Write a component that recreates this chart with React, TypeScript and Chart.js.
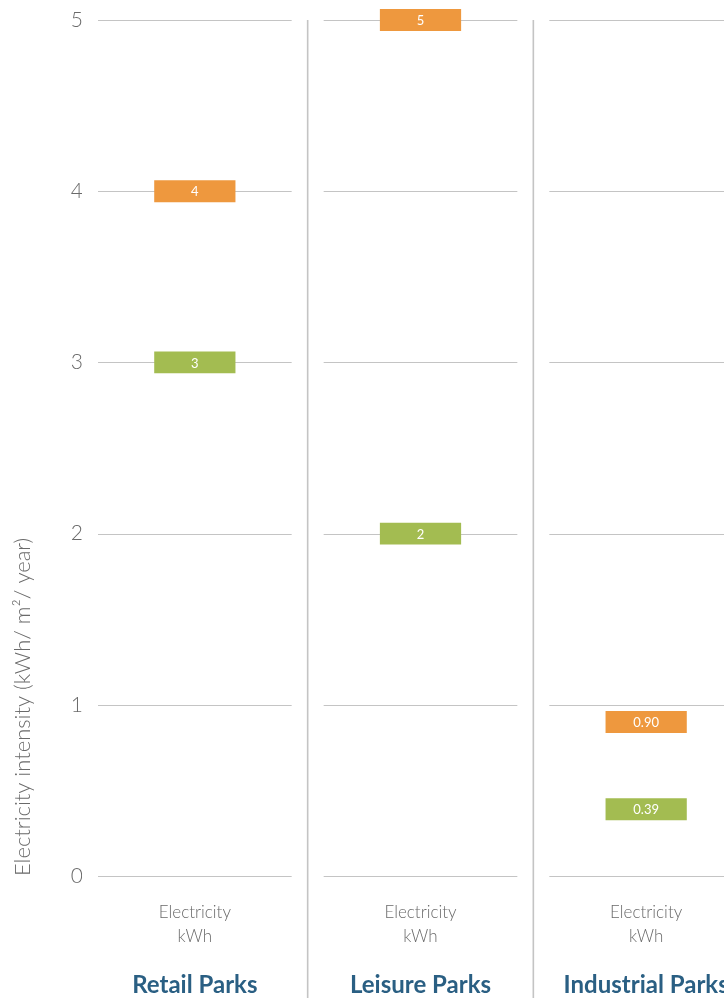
import React, { useEffect, useRef } from "react";
import { Chart, registerables } from "chart.js";

Chart.register(...registerables);

const parks = ["Retail Parks", "Leisure Parks", "Industrial Parks"];
const metricLabel = ["Electricity", "kWh"];
const orangeValues = [4, 5, 0.9];
const orangeLabels = ["4", "5", "0.90"];
const greenValues = [3, 2, 0.39];
const greenLabels = ["3", "2", "0.39"];
const yTicks = [0, 1, 2, 3, 4, 5];

const ORANGE = "#EE983E";
const GREEN = "#A3BC51";
const HALF = 0.064; // marker half-height in axis units
const FONT = "Lato, 'Open Sans', sans-serif";

const panelPlugin = {
  id: "panels",
  beforeDatasetsDraw(chart: any) {
    const { ctx, chartArea, scales } = chart;
    const x = scales.x;
    const y = scales.y;
    const n = parks.length;
    const w = (chartArea.right - chartArea.left) / n;
    ctx.save();
    ctx.strokeStyle = "#c4c4c4";
    ctx.lineWidth = 1.2;
    for (let i = 0; i < n; i++) {
      const c = x.getPixelForValue(i);
      const l = c - w / 2 + 16;
      const r = c + w / 2 - 16;
      for (const t of yTicks) {
        const py = Math.round(y.getPixelForValue(t)) + 0.5;
        ctx.beginPath();
        ctx.moveTo(l, py);
        ctx.lineTo(r, py);
        ctx.stroke();
      }
    }
    ctx.lineWidth = 1.6;
    for (let i = 1; i <= n; i++) {
      const bx = x.getPixelForValue(i - 1) + w / 2;
      ctx.beginPath();
      ctx.moveTo(bx, chartArea.top);
      ctx.lineTo(bx, chart.height);
      ctx.stroke();
    }
    ctx.restore();
  },
  afterDatasetsDraw(chart: any) {
    const { ctx } = chart;
    const labelSets = [orangeLabels, greenLabels];
    ctx.save();
    ctx.fillStyle = "#ffffff";
    ctx.font = `400 13px ${FONT}`;
    ctx.textAlign = "center";
    ctx.textBaseline = "middle";
    chart.data.datasets.forEach((ds: any, di: number) => {
      const meta = chart.getDatasetMeta(di);
      meta.data.forEach((el: any, i: number) => {
        const cy = (el.y + el.base) / 2;
        ctx.fillText(labelSets[di][i], el.x, cy + 1);
      });
    });
    ctx.restore();
  },
};

export default function App() {
  const ref = useRef<HTMLCanvasElement | null>(null);
  useEffect(() => {
    if (!ref.current) return;
    const chart = new Chart(ref.current, {
      type: "bar",
      data: {
        labels: parks,
        datasets: [
          {
            label: "Orange",
            data: orangeValues.map((v) => [v - HALF, v + HALF]) as any,
            backgroundColor: ORANGE,
            grouped: false,
            clip: false as any,
            barPercentage: 0.36,
            categoryPercentage: 1,
          } as any,
          {
            label: "Green",
            data: greenValues.map((v) => [v - HALF, v + HALF]) as any,
            backgroundColor: GREEN,
            grouped: false,
            clip: false as any,
            barPercentage: 0.36,
            categoryPercentage: 1,
          } as any,
        ],
      },
      plugins: [panelPlugin],
      options: {
        responsive: false,
        animation: false,
        layout: { padding: { top: 12, right: 1, left: 0, bottom: 0 } },
        plugins: { legend: { display: false }, tooltip: { enabled: false } },
        scales: {
          x: {
            type: "category",
            position: "bottom",
            weight: 0,
            grid: { display: false, drawTicks: false },
            border: { display: false },
            ticks: {
              padding: 24,
              color: "#6a6a6a",
              font: { family: FONT, size: 17, weight: "300" as any, lineHeight: 1.42 },
              callback: () => metricLabel,
            },
            afterFit: (s: any) => {
              s.height = 72;
            },
          },
          x2: {
            type: "category",
            labels: parks,
            position: "bottom",
            weight: 1,
            grid: { display: false, drawTicks: false },
            border: { display: false },
            ticks: {
              padding: 23,
              color: "#2A5F83",
              font: { family: FONT, size: 24, weight: "bold" as any, lineHeight: 1.2 },
            },
            afterFit: (s: any) => {
              s.height = 50;
            },
          } as any,
          y: {
            min: 0,
            max: 5,
            grid: { display: false, drawTicks: false },
            border: { display: false },
            ticks: {
              stepSize: 1,
              padding: -1,
              color: "#6a6a6a",
              font: { family: FONT, size: 21, weight: "300" as any },
            },
            title: {
              display: true,
              text: "Electricity intensity (kWh/ m²/ year)",
              align: "start",
              color: "#6a6a6a",
              font: { family: FONT, size: 22, weight: "300" as any },
              padding: { top: 2, bottom: 0 },
            },
            afterFit: (s: any) => {
              s.width = 74;
            },
          },
        },
      },
    });
    return () => chart.destroy();
  }, []);
  return (
    <div
      style={{
        position: "fixed",
        left: 8,
        top: 8,
        width: 716,
        height: 990,
        overflow: "hidden",
      }}
    >
      <canvas ref={ref} width={752} height={990} style={{ display: "block" }} />
    </div>
  );
}
